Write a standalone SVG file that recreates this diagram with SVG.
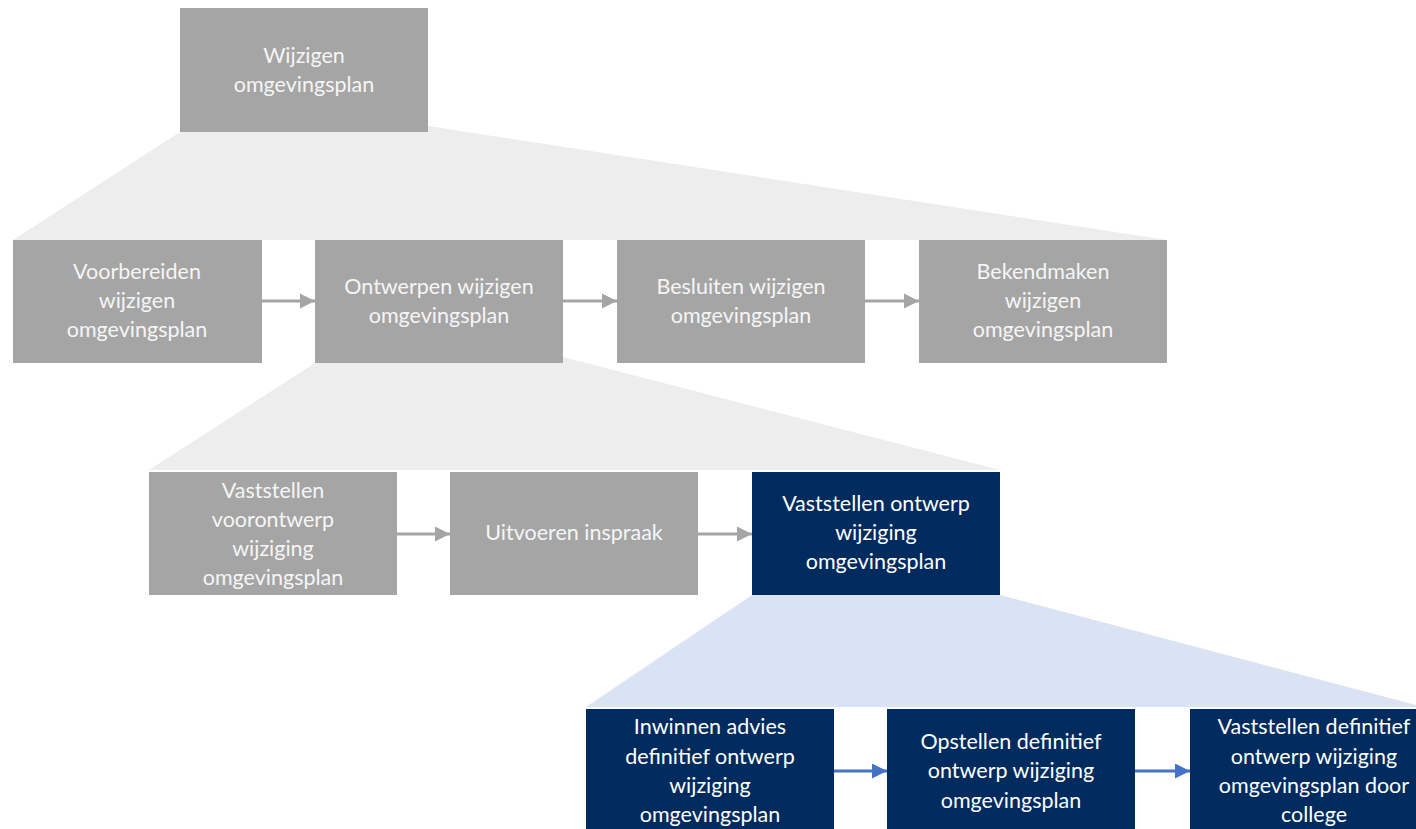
<svg xmlns="http://www.w3.org/2000/svg" width="1416" height="829" viewBox="0 0 1416 829">
<defs>
<marker id="ag" viewBox="0 0 10 10" refX="10" refY="5" markerWidth="5" markerHeight="5.5" markerUnits="strokeWidth" orient="auto"><path d="M0,0 L10,5 L0,10 Z" fill="#a5a5a5"/></marker>
<marker id="ab" viewBox="0 0 10 10" refX="10" refY="5" markerWidth="5" markerHeight="5" markerUnits="strokeWidth" orient="auto"><path d="M0,0 L10,5 L0,10 Z" fill="#4472c4"/></marker>
<style>
.g{fill:#a5a5a5}
.n{fill:#002b5f}
.t{font-family:"Lato","Liberation Sans",sans-serif;font-size:21.5px;fill:#ffffff;text-anchor:middle}
.tg{fill:#f5f5f5}
.cg{stroke:#a5a5a5;stroke-width:3;fill:none;marker-end:url(#ag)}
.cb{stroke:#4472c4;stroke-width:3;fill:none;marker-end:url(#ab)}
</style>
</defs>
<rect width="1416" height="829" fill="#ffffff"/>
<g id="zoom-bands">
<polygon points="180,132 428,126 1167,240 13,240" fill="#ededed"/>
<polygon points="315,363 563,357 1000,470 149,470" fill="#ededed"/>
<polygon points="752,595 1000,595 1416,705 1416,707 586,707" fill="#dae3f3"/>
</g>
<g id="connectors">
<line class="cg" x1="262" y1="301" x2="315" y2="301"/>
<line class="cg" x1="563" y1="301" x2="617" y2="301"/>
<line class="cg" x1="865" y1="301" x2="919" y2="301"/>
<line class="cg" x1="397" y1="534" x2="450" y2="534"/>
<line class="cg" x1="698" y1="534" x2="752" y2="534"/>
<line class="cb" x1="834" y1="771" x2="887" y2="771"/>
<line class="cb" x1="1135" y1="771" x2="1190" y2="771"/>
</g>
<g id="n-wijzigen">
<rect class="g" x="180" y="8" width="248" height="124"/>
<text class="t tg"><tspan x="304" y="63">Wijzigen</tspan><tspan x="304" y="92">omgevingsplan</tspan></text>
</g>
<g id="n-voorbereiden">
<rect class="g" x="13" y="240" width="249" height="123"/>
<text class="t tg"><tspan x="137" y="279">Voorbereiden</tspan><tspan x="137" y="308">wijzigen</tspan><tspan x="137" y="337">omgevingsplan</tspan></text>
</g>
<g id="n-ontwerpen">
<rect class="g" x="315" y="240" width="248" height="123"/>
<text class="t tg"><tspan x="439" y="294">Ontwerpen wijzigen</tspan><tspan x="439" y="323">omgevingsplan</tspan></text>
</g>
<g id="n-besluiten">
<rect class="g" x="617" y="240" width="248" height="123"/>
<text class="t tg"><tspan x="741" y="294">Besluiten wijzigen</tspan><tspan x="741" y="323">omgevingsplan</tspan></text>
</g>
<g id="n-bekendmaken">
<rect class="g" x="919" y="240" width="248" height="123"/>
<text class="t tg"><tspan x="1043" y="279">Bekendmaken</tspan><tspan x="1043" y="308">wijzigen</tspan><tspan x="1043" y="337">omgevingsplan</tspan></text>
</g>
<g id="n-voorontwerp">
<rect class="g" x="149" y="472" width="248" height="123"/>
<text class="t tg"><tspan x="273" y="498">Vaststellen</tspan><tspan x="273" y="527">voorontwerp</tspan><tspan x="273" y="556">wijziging</tspan><tspan x="273" y="585">omgevingsplan</tspan></text>
</g>
<g id="n-inspraak">
<rect class="g" x="450" y="472" width="248" height="123"/>
<text class="t tg"><tspan x="574" y="540">Uitvoeren inspraak</tspan></text>
</g>
<g id="n-ontwerp">
<rect class="n" x="752" y="472" width="248" height="123"/>
<text class="t"><tspan x="876" y="511">Vaststellen ontwerp</tspan><tspan x="876" y="540">wijziging</tspan><tspan x="876" y="569">omgevingsplan</tspan></text>
</g>
<g id="n-advies">
<rect class="n" x="586" y="709" width="248" height="120"/>
<text class="t"><tspan x="710" y="734">Inwinnen advies</tspan><tspan x="710" y="764">definitief ontwerp</tspan><tspan x="710" y="793">wijziging</tspan><tspan x="710" y="822">omgevingsplan</tspan></text>
</g>
<g id="n-opstellen">
<rect class="n" x="887" y="709" width="248" height="120"/>
<text class="t"><tspan x="1011" y="749">Opstellen definitief</tspan><tspan x="1011" y="778">ontwerp wijziging</tspan><tspan x="1011" y="808">omgevingsplan</tspan></text>
</g>
<g id="n-college">
<rect class="n" x="1190" y="709" width="248" height="120"/>
<text class="t"><tspan x="1314" y="734">Vaststellen definitief</tspan><tspan x="1314" y="764">ontwerp wijziging</tspan><tspan x="1314" y="793">omgevingsplan door</tspan><tspan x="1314" y="822">college</tspan></text>
</g>
</svg>
